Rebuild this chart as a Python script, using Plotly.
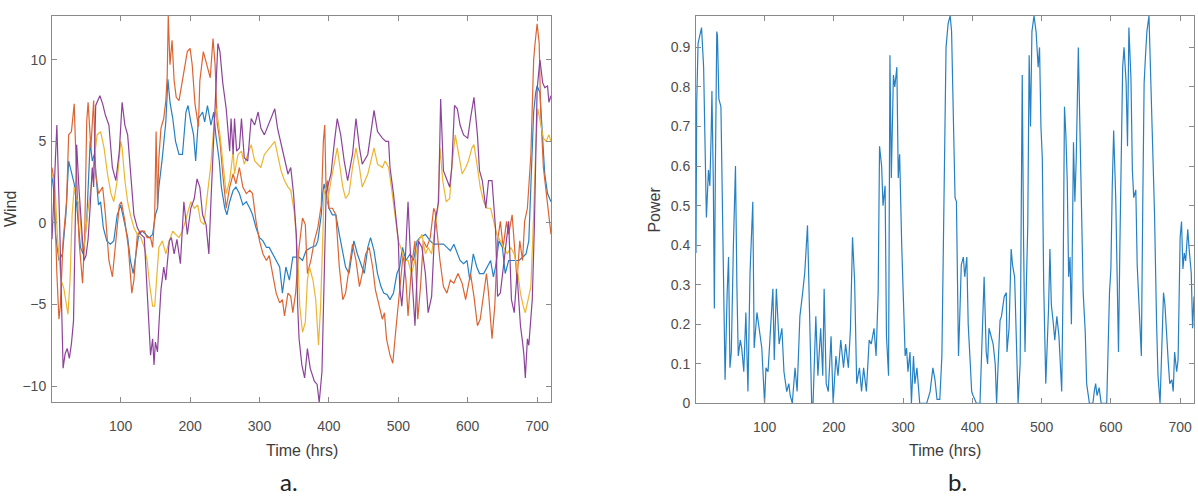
import plotly.graph_objects as go

# ---------------- data ----------------
blue_t = [1,3,6,11,16,21,25,28,30,33,37,42,46,51,56,59,62,64,68,71,75,80,85,90,95,100,105,110,114,118,122,126,131,136,141,146,150,153,155,160,165,168,171,175,179,184,189,194,197,201,205,208,212,218,221,225,230,234,237,242,245,250,253,257,262,266,271,276,281,286,290,295,300,305,310,314,319,324,329,333,338,343,348,353,357,362,367,374,381,384,389,391,393,396,400,405,410,415,420,424,429,434,436,441,446,451,456,460,465,470,475,479,484,488,493,498,502,506,511,517,522,527,531,539,546,551,556,560,565,570,575,580,585,589,594,599,603,608,613,617,623,628,633,637,640,645,650,654,659,664,669,674,679,684,688,692,695,698,700,704,708,711,715,720]
blue_v = [2.8,2.2,-0.7,-2.3,-1.9,0.5,3.8,3.3,2.8,2.4,0.9,-1.5,-1.9,0.1,5.0,3.8,4.2,3.0,1.1,1.3,-0.3,-1.1,-1.3,-1.1,0.5,1.1,0.1,-0.9,-2.3,-3.1,-1.9,-0.7,-0.5,-0.7,-0.9,-0.7,0.5,0.9,2.2,4.0,6.2,8.8,7.4,6.4,5.0,4.2,4.2,6.8,7.2,6.2,5.4,3.8,6.4,6.8,6.2,7.2,6.0,6.8,5.4,3.8,2.2,0.9,0.5,1.3,2.0,2.2,1.8,1.1,1.3,0.9,0.5,-0.3,-0.9,-1.1,-1.5,-1.5,-1.9,-2.3,-2.7,-4.3,-2.7,-3.5,-2.1,-2.1,-2.1,-2.3,-1.7,-1.5,-1.4,-1.1,0.5,1.8,2.4,1.8,0.9,0.5,0.5,-0.7,-1.9,-2.7,-3.1,-1.5,-1.1,-1.9,-2.5,-3.1,-1.5,-0.9,-1.7,-3.1,-3.9,-4.3,-4.4,-4.7,-4.3,-3.1,-2.7,-1.5,-2.3,-1.9,-2.3,-1.1,-0.9,-0.7,-1.1,-1.3,-1.3,-1.3,-1.3,-1.5,-1.7,-1.3,-1.9,-2.3,-2.5,-2.3,-3.5,-1.9,-2.7,-3.1,-3.1,-2.7,-2.3,-3.3,-2.7,-1.1,-1.5,-3.1,-2.3,-2.3,-2.3,-2.3,-2.1,-1.9,-1.1,3.0,6.8,8.0,8.4,8.0,5.4,3.0,1.8,1.3]

orange_t = [1,4,8,11,13,17,22,25,29,33,35,40,45,48,51,53,57,61,64,68,74,78,83,88,93,98,101,106,111,116,119,124,129,134,138,143,146,149,151,153,155,158,162,165,167,168.5,171,174,177,180,184,190,196,200,203,207,212,214,219,224,229,233,236,239,243,247,252,257,262,266,271,276,281,286,290,295,300,305,310,314,319,324,329,333,336,341,345,348,352,357,362,366,369,374,379,384,389,392,394,396,398,400,405,410,415,420,424,429,434,439,444,448,453,458,463,467,472,477,480,483,488,492,497,501,505,507,511,514,519,524,528,532,536,541,546,551,553,557,560,565,570,575,580,586,592,597,600,604,609,614,618,623,627,630,635,639,643,647,651,656,659,664,668,671,675,679,682,686,691,695,697,700,703,705,709,713,717,720]
orange_v = [3.4,2.6,-3.1,-5.9,-5.1,-1.1,1.3,5.4,5.6,7.3,4.6,-1.1,-3.7,-1.0,6.2,7.4,4.6,7.5,3.0,1.8,2.2,0.5,-2.3,-3.3,-1.1,1.1,1.3,0.1,-1.5,-4.3,-3.5,-0.7,-0.5,-0.5,-0.9,-0.9,-1.5,0.5,5.6,0.9,4.0,5.8,6.4,7.5,9.0,12.7,9.7,11.2,8.7,7.7,7.5,9.1,10.5,10.7,9.7,7.3,5.9,8.7,10.5,9.7,8.9,11.3,9.7,6.1,5.0,3.0,0.9,2.2,3.0,2.4,3.4,2.2,1.8,2.0,1.8,0.1,-1.1,-1.9,-2.3,-2.0,-3.1,-4.3,-4.9,-4.7,-5.7,-4.3,-4.5,-5.5,-4.3,-1.5,0.3,-0.1,-3.1,-2.3,-1.1,-0.3,1.1,5.0,6.0,1.8,2.6,0.9,0.9,0.5,-2.7,-4.7,-4.3,-2.7,-1.3,-2.3,-3.9,-3.1,-1.9,-1.5,-2.7,-4.1,-5.1,-5.9,-5.5,-7.1,-8.1,-8.6,-6.3,-4.7,-2.7,-1.9,-3.5,-5.7,-2.7,-1.1,-5.9,-3.9,-1.1,-1.5,-0.9,0.9,0.7,-1.1,-2.3,-3.9,-4.3,-3.5,-3.7,-3.1,-3.7,-4.7,-3.9,-3.1,-4.5,-6.3,-5.9,-4.3,-3.1,-4.3,-7.1,-5.1,-1.1,0.1,-1.5,0.1,-0.7,0.5,-1.5,-3.5,-1.1,-2.3,0.1,0.9,4.2,10.0,11.0,12.2,11.0,7.0,3.4,1.8,0.5,-0.7]

yellow_t = [1,5,9,14,18,22,24,27,30,33,36,40,45,48,52,56,59,63,66,71,76,81,86,90,95,100,102,106,110,114,119,124,129,134,138,142,146,149,152,155,160,165,170,175,179,184,189,196,201,206,211,215,220,225,230,235,238,243,247,252,257,262,264,269,274,278,283,288,293,298,302,307,314,322,326,331,336,341,345,350,355,358,362,366,369,372,377,381,385,388,391,393,396,398,403,408,412,416,420,424,429,434,439,444,448,456,465,470,477,481,486,490,495,500,505,510,514,519,524,529,534,539,543,548,553,557,560,564,569,574,577,582,587,592,597,601,606,609,614,618,623,628,633,638,642,647,652,657,662,667,671,676,680,683,687,691,695,698,701,705,709,713,717,720]
yellow_v = [3.0,2.5,-1.0,-3.5,-4.0,-5.1,-5.6,-3.5,0.5,2.2,1.5,1.2,-1.7,-1.3,0.5,1.8,3.0,4.5,5.4,5.6,4.6,3.0,1.8,1.3,2.6,5.0,4.6,2.6,1.3,0.5,-0.3,-0.7,-0.9,-1.5,-2.3,-3.9,-5.1,-5.1,-3.1,-1.5,-1.1,-1.9,-1.1,-0.5,-0.7,-0.9,-0.5,0.5,1.3,0.9,1.1,0.1,-0.1,1.8,3.6,6.4,7.0,5.4,3.8,1.8,2.6,4.4,3.0,4.2,4.4,3.6,4.2,4.8,3.8,3.6,3.4,4.2,4.6,5.0,4.2,3.2,2.6,2.2,2.0,0.7,-1.9,-5.1,-6.7,-6.1,-3.5,-2.7,-3.5,-4.7,-7.5,-5.1,-1.1,1.8,2.2,1.3,2.6,3.8,4.6,3.4,2.2,1.5,1.8,3.4,4.6,3.4,2.2,3.0,4.6,3.6,3.4,3.8,3.4,2.2,0.5,-1.1,-1.7,-2.3,-2.3,-3.1,-2.3,-1.1,-0.7,-1.9,-1.5,-1.9,-0.3,0.9,4.6,2.6,1.3,1.5,3.4,5.4,4.2,3.0,3.4,3.8,4.6,4.8,3.4,2.2,1.3,0.9,0.9,0.1,-0.7,-1.1,-1.5,-1.9,-1.5,-1.9,-2.7,-4.3,-5.1,-5.5,-4.7,-3.9,0.5,4.6,7.0,6.2,5.2,5.0,5.4,5.0]

purple_t = [1,5,8,12,15,17,20,23,26,29,32,34,36.5,40,43,47,50,53,56,59,61,64,67,70,74,78,83,88,93,98,102,106,110,114,119,124,129,134,138,141,143,146,148,150,153,155,158,162,165,170,173,177,181,186,191,196,201,206,210,214,218,223,227,230,235,238,240,243,247,252,257,259,262,264,267,271,274,278,283,288,293,298,302,307,314,322,326,331,336,341,345,349,353,355,357,361,365,369,373,379,383,386,390,393,396,398,403,408,412,417,422,427,434,439,444,448,456,465,470,477,482,486,488,493,500,502,505,510,514,517,522,524,529,534,539,543,548,553,558,561,565,570,574,577,581,585,589,594,600,604,609,614,617,621,626,630,635,640,643,647,652,656,659,663,667,671,676,679,681,683,686,688,691,693,696,698,700,704,708,711,715,717,720]
purple_v = [-1.0,3.0,6.0,0.0,-6.0,-8.9,-8.0,-7.7,-8.3,-7.4,-6.0,0.0,4.8,2.0,0.0,-2.3,-2.0,-1.0,1.0,3.4,2.2,7.2,7.5,7.8,7.3,6.6,6.0,3.4,2.6,4.4,7.4,6.0,5.4,3.0,0.5,-0.3,-0.7,-0.9,-4.1,-7.1,-8.1,-7.1,-8.7,-7.3,-7.9,-6.3,-4.1,-2.7,-3.5,-1.1,-0.9,-1.9,-1.0,-2.5,1.3,-0.7,0.9,1.5,2.7,2.2,0.5,-0.1,-1.9,1.3,6.0,9.5,11.0,10.5,8.6,7.0,4.4,6.4,4.2,6.4,4.4,4.6,6.4,4.0,3.8,6.4,6.0,6.8,5.8,5.4,6.2,7.0,5.8,4.8,4.0,3.0,3.4,1.8,-0.7,-5.1,-7.1,-8.7,-9.5,-7.7,-8.9,-9.7,-9.9,-11.0,-9.1,-3.1,1.8,2.2,3.0,5.0,6.4,5.4,3.8,2.6,4.2,6.4,4.6,3.6,4.2,6.9,5.6,5.2,5.0,5.0,3.4,1.8,-1.1,-3.9,-5.1,-2.3,1.3,-1.5,-5.1,-6.3,-1.1,-1.5,-3.1,-5.5,-4.5,0.1,1.3,7.6,3.2,2.6,2.2,3.4,7.2,7.0,6.0,5.4,5.2,6.4,7.7,5.4,3.2,2.6,0.9,2.6,2.6,-0.3,-4.5,-4.3,-2.3,-1.1,0.1,-4.7,-5.5,-3.1,-6.3,-7.3,-8.1,-9.5,-7.1,-7.5,-5.9,-4.7,-0.3,5.4,8.2,10.0,8.6,8.3,8.4,7.4,7.8]

power_t = [1,2,4,7,9,12,14,16,19,21,23,24,26,27.5,29,31,32,34,37,40,43,46,48,50,52,55,58,60,62,65,67,70,73,76,79,83,85,89,92,96,100,102,105,109,112,114,117,121,125,128,132,135,137,140,144,147,151,155,158,162,165,168,170,174,177,181,184,186,189,192,196,199,203,206,210,214,217,221,224,227,230,233,237,240,243,247,251,254,258,261,264,266,269,271,274,276,279,281,283,286,288,291,293,295,298,300,303,305,307,310,312,315,317,320,322,324,334,339,343,346,349,353,356,359,362,365,368,370,372,375,377,380,382,384,387,389,392,394,397,399,401,406,411,415,417,420,422,424,428,430,433,435,437,440,442,446,449,450,453,456,458,461,464,466,469,472,474,476,478,480,482,484,486,489,492,495,497,499,501,503,506,510,512,514,517,519,522,525,529,531,533,535,537,539,541,543,545,546,548,550,553,556,558,560,563,565,569,574,576,578,580,583,586,594,598,600,602,604,607,609,611,613,615,617,619,622,624,626,629,631,633,636,638,641,644,646,648,650,652,655,657,660,663,666,668,671,673,676,678,680,683,685,688,690,692,695,697,700,702,704,706,708,711,713,716,718,720]
power_v = [0.38,0.76,0.91,0.94,0.95,0.85,0.67,0.47,0.59,0.55,0.69,0.79,0.56,0.24,0.6,0.94,0.93,0.77,0.75,0.4,0.06,0.28,0.37,0.09,0.13,0.4,0.6,0.3,0.12,0.16,0.14,0.08,0.23,0.03,0.33,0.51,0.14,0.23,0.19,0.14,0.0,0.09,0.08,0.22,0.29,0.11,0.29,0.15,0.19,0.08,0.03,0.05,0.02,0.0,0.09,0.03,0.22,0.28,0.33,0.45,0.25,0.0,0.0,0.22,0.07,0.19,0.07,0.29,0.05,0.03,0.17,0.0,0.12,0.07,0.16,0.09,0.15,0.09,0.19,0.42,0.31,0.05,0.09,0.03,0.09,0.03,0.16,0.15,0.19,0.12,0.28,0.65,0.6,0.5,0.55,0.17,0.07,0.88,0.57,0.83,0.8,0.85,0.57,0.63,0.4,0.26,0.12,0.14,0.08,0.13,0.0,0.12,0.05,0.09,0.03,0.0,0.0,0.03,0.09,0.06,0.01,0.01,0.12,0.5,0.9,0.96,0.98,0.94,0.77,0.52,0.51,0.12,0.23,0.35,0.37,0.32,0.37,0.2,0.1,0.03,0.02,0.0,0.0,0.2,0.32,0.13,0.1,0.19,0.16,0.15,0.1,0.0,0.09,0.21,0.22,0.27,0.28,0.13,0.19,0.39,0.35,0.32,0.13,0.0,0.1,0.83,0.4,0.13,0.3,0.45,0.88,0.7,0.94,0.98,0.94,0.85,0.9,0.7,0.62,0.3,0.05,0.24,0.39,0.25,0.2,0.16,0.22,0.17,0.03,0.3,0.75,0.68,0.56,0.32,0.37,0.2,0.5,0.66,0.51,0.62,0.9,0.59,0.45,0.28,0.18,0.05,0.0,0.0,0.03,0.05,0.02,0.04,0.0,0.0,0.28,0.34,0.55,0.69,0.52,0.3,0.13,0.4,0.6,0.85,0.9,0.81,0.65,0.95,0.82,0.59,0.52,0.54,0.35,0.23,0.12,0.5,0.81,0.88,0.94,0.98,0.85,0.65,0.48,0.2,0.07,0.0,0.1,0.28,0.25,0.18,0.1,0.05,0.06,0.03,0.13,0.08,0.11,0.42,0.46,0.34,0.38,0.36,0.44,0.39,0.33,0.19,0.27]

x_ticks = [100, 200, 300, 400, 500, 600, 700]
wind_ticks = [-10, -5, 0, 5, 10]
power_ticks = [0, 0.1, 0.2, 0.3, 0.4, 0.5, 0.6, 0.7, 0.8, 0.9]
power_ticktext = ["0", "0.1", "0.2", "0.3", "0.4", "0.5", "0.6", "0.7", "0.8", "0.9"]

# ---------------- figure ----------------
W, H = 1198, 498
C_BLUE, C_ORANGE, C_YELLOW, C_PURPLE = "#2680c4", "#dc6432", "#edb530", "#8c439a"
LW = 1.2

fig = go.Figure()
for t, v, c in [(blue_t, blue_v, C_BLUE), (orange_t, orange_v, C_ORANGE),
                (yellow_t, yellow_v, C_YELLOW), (purple_t, purple_v, C_PURPLE)]:
    fig.add_trace(go.Scatter(x=t, y=v, mode="lines", line=dict(color=c, width=LW),
                             xaxis="x", yaxis="y", showlegend=False))
fig.add_trace(go.Scatter(x=power_t, y=power_v, mode="lines", line=dict(color=C_BLUE, width=LW),
                         xaxis="x2", yaxis="y2", showlegend=False))

axis_line = "#8a8a8a"
tick_font = dict(family="Liberation Sans, Arial, sans-serif", size=14, color="#4d4d4d")
common = dict(showline=True, linecolor=axis_line, linewidth=1, mirror="ticks",
              ticks="inside", ticklen=5, tickcolor=axis_line, tickwidth=1,
              showgrid=False, zeroline=False, tickfont=tick_font)

fig.update_layout(
    width=W, height=H, autosize=False,
    margin=dict(l=0, r=0, t=0, b=0),
    paper_bgcolor="white", plot_bgcolor="white",
    xaxis=dict(domain=[52 / W, 551 / W], range=[1, 720], tickvals=x_ticks, anchor="y",
               ticklabelstandoff=11, **common),
    yaxis=dict(domain=[(H - 409) / H, (H - 16) / H], range=[-11.0, 12.7], tickvals=wind_ticks,
               anchor="x", ticklabelstandoff=2, **common),
    xaxis2=dict(domain=[696 / W, 1194 / W], range=[1, 720], tickvals=x_ticks, anchor="y2",
                ticklabelstandoff=11, **common),
    yaxis2=dict(domain=[(H - 410) / H, (H - 16) / H], range=[0, 0.98], tickvals=power_ticks,
                ticktext=power_ticktext, anchor="x2", ticklabelstandoff=2, **common),
)

label_font = dict(family="Liberation Sans, Arial, sans-serif", size=16, color="#3d3d3d")
panel_font = dict(family="Lato, Open Sans, sans-serif", size=24, color="#222222")
ann = [
    dict(text="Wind", x=10 / W, y=(H - 212.5) / H, textangle=-90, font=label_font),
    dict(text="Power", x=655 / W, y=(H - 213) / H, textangle=-90, font=label_font),
    dict(text="Time (hrs)", x=301.5 / W, y=(H - 458) / H, font=label_font),
    dict(text="Time (hrs)", x=945 / W, y=(H - 458) / H, font=label_font),
    dict(text="a.", x=289 / W, y=(H - 489) / H, font=panel_font),
    dict(text="b.", x=957 / W, y=(H - 489) / H, font=panel_font),
]
for a in ann:
    fig.add_annotation(xref="paper", yref="paper", showarrow=False,
                       xanchor="center", yanchor="middle", **a)

fig.write_html("out.html")
